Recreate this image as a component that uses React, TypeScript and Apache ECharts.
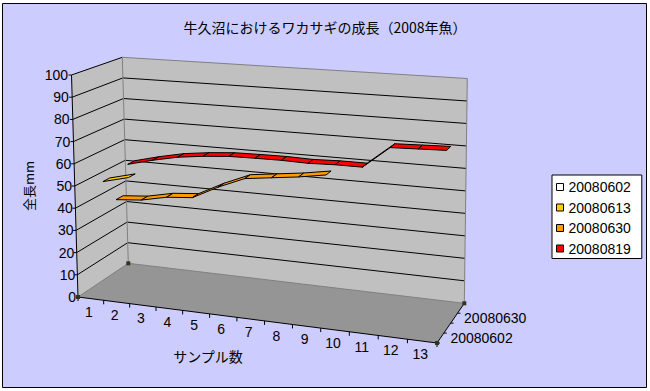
import React, { useEffect, useRef } from 'react';
import * as echarts from 'echarts';

// ---------- data ----------
const chartTitle = '牛久沼におけるワカサギの成長（2008年魚）';
const categories = ['1', '2', '3', '4', '5', '6', '7', '8', '9', '10', '11', '12', '13'];
const seriesNames = ['20080602', '20080613', '20080630', '20080819'];
const seriesColors = ['#FFFFFF', '#FFCC00', '#FF9900', '#FF0000'];
const s20080602: number[] = [];
const s20080613 = [49, 52];
const s20080630 = [37.5, 38.5, 41, 42, 48, 53, 54.5, 56, 58];
const s20080819 = [51, 54, 56.5, 58, 59, 59.2, 59.3, 59, 59.4, 59.4, 69.2, 69.6, 70];
const seriesValues = [s20080602, s20080613, s20080630, s20080819];
const yTicks = [0, 10, 20, 30, 40, 50, 60, 70, 80, 90, 100];
const depthLabelIdx = [0, 2];
const yTitle = '全長mm';
const xTitle = 'サンプル数';

// ---------- 3D box projection (layout constants) ----------
type Pt = [number, number];
const FL0: Pt = [78, 297];
const FL1: Pt = [71.5, 75];
const BL0: Pt = [128.3, 263.3];
const BL1: Pt = [122.3, 57.3];
const FR0: Pt = [437, 343];
const FR1: Pt = [439.5, 102.5];
const BR0: Pt = [464.3, 303.3];
const BR1: Pt = [467.3, 78.5];
const WARP = 0.076;
const RIBBON = 0.14;
const DIGIT_FONT = '"Liberation Sans", Arial, sans-serif';
const JP_FONT = '"Noto Sans CJK JP", sans-serif';

const lerp = (a: Pt, b: Pt, s: number): Pt => [a[0] + (b[0] - a[0]) * s, a[1] + (b[1] - a[1]) * s];
function proj(f: number, d: number, t: number): Pt {
  const g = f - WARP * f * (1 - f);
  const b0 = lerp(lerp(FL0, FR0, g), lerp(BL0, BR0, g), d);
  const b1 = lerp(lerp(FL1, FR1, g), lerp(BL1, BR1, g), d);
  return lerp(b0, b1, t);
}

function frameRender(params: any, api: any) {
  const cs = params.coordSys;
  const tOf = (v: number) => (cs.y + cs.height - api.coord([0, v])[1]) / cs.height;
  const fOf = (x: number) => (x - cs.x) / cs.width;
  const ch: any[] = [];
  const line = (a: Pt, b: Pt, stroke: string) =>
    ch.push({ type: 'line', shape: { x1: a[0], y1: a[1], x2: b[0], y2: b[1] }, style: { stroke, lineWidth: 1 } });
  // walls & floor
  ch.push({ type: 'polygon', shape: { points: [proj(0, 0, 0), proj(0, 1, 0), proj(0, 1, 1), proj(0, 0, 1)] }, style: { fill: '#C0C0C0' } });
  ch.push({ type: 'polygon', shape: { points: [proj(0, 1, 0), proj(1, 1, 0), proj(1, 1, 1), proj(0, 1, 1)] }, style: { fill: '#C0C0C0' } });
  ch.push({ type: 'polygon', shape: { points: [proj(0, 0, 0), proj(1, 0, 0), proj(1, 1, 0), proj(0, 1, 0)] }, style: { fill: '#959595' } });
  // gridlines
  yTicks.forEach((v) => {
    if (v === 0) return;
    const t = tOf(v);
    line(proj(0, 0, t), proj(0, 1, t), '#000');
    line(proj(0, 1, t), proj(1, 1, t), v === 100 ? '#808080' : '#000');
    const p = proj(0, 0, t);
    line([p[0] - 3, p[1]], p, '#000');
  });
  // edges
  line(proj(0, 1, 0), proj(0, 1, 1), '#808080');
  line(proj(1, 1, 0), proj(1, 1, 1), '#808080');
  line(proj(0, 1, 0), proj(1, 1, 0), '#808080');
  line(proj(0, 0, 0), proj(0, 1, 0), '#808080');
  line(proj(0, 0, 0), proj(0, 0, 1), '#000');
  line(proj(0, 0, 0), proj(1, 0, 0), '#000');
  line(proj(1, 0, 0), proj(1, 1, 0), '#000');
  // category ticks and labels
  const bw = api.size([1, 0])[0];
  categories.forEach((c, k) => {
    const cx = api.coord([k, 0])[0];
    const pb = proj(fOf(cx - bw / 2), 0, 0);
    line(pb, [pb[0], pb[1] + 4], '#000');
    const pc = proj(fOf(cx), 0, 0);
    ch.push({ type: 'text', style: { text: c, x: pc[0] - 2, y: pc[1] + 13, fill: '#000', fontSize: 14, fontFamily: DIGIT_FONT, align: 'center', verticalAlign: 'middle' } });
  });
  const pe = proj(1, 0, 0);
  line(pe, [pe[0], pe[1] + 4], '#000');
  // depth ticks and labels
  seriesNames.forEach((_, i) => {
    const p = proj(1, i / 4, 0);
    line(p, [p[0] + 3, p[1]], '#000');
  });
  depthLabelIdx.forEach((i) => {
    const p = proj(1, (i + 0.5) / 4, 0);
    ch.push({ type: 'text', style: { text: seriesNames[i], x: p[0] + 10, y: p[1], fill: '#000', fontSize: 14, fontFamily: DIGIT_FONT, align: 'left', verticalAlign: 'middle' } });
  });
  // corner handles
  [proj(0, 0, 0), proj(0, 1, 0), proj(1, 1, 0), proj(1, 0, 0)].forEach((p) => {
    ch.push({ type: 'rect', shape: { x: p[0] - 2, y: p[1] - 2, width: 4, height: 4 }, style: { fill: '#333320' } });
  });
  return { type: 'group', children: ch };
}

function ribbonRender(i: number) {
  return (params: any, api: any) => {
    const cs = params.coordSys;
    const k = api.value(0);
    const p1 = api.coord([k, api.value(1)]);
    const p2 = api.coord([k + 1, api.value(2)]);
    const f1 = (p1[0] - cs.x) / cs.width;
    const f2 = (p2[0] - cs.x) / cs.width;
    const t1 = (cs.y + cs.height - p1[1]) / cs.height;
    const t2 = (cs.y + cs.height - p2[1]) / cs.height;
    const dc = (i + 0.5) / 4;
    const d0 = dc - RIBBON / 2;
    const d1 = dc + RIBBON / 2;
    return {
      type: 'polygon',
      shape: { points: [proj(f1, d0, t1), proj(f2, d0, t2), proj(f2, d1, t2), proj(f1, d1, t1)] },
      style: { fill: seriesColors[i], stroke: '#000', lineWidth: 1, lineJoin: 'round' },
    };
  };
}

const segs = (vals: number[]) => {
  const out: number[][] = [];
  for (let k = 0; k < vals.length - 1; k++) out.push([k, vals[k], vals[k + 1]]);
  return out;
};

export default function App() {
  const ref = useRef<HTMLDivElement>(null);
  useEffect(() => {
    if (!ref.current) return;
    const chart = echarts.init(ref.current, undefined, { renderer: 'svg' });
    const rich: any = {};
    yTicks.forEach((v) => {
      rich['v' + v] = { padding: [0, (8 * v) / 100, 0, 0], fontSize: 14, fontFamily: DIGIT_FONT, color: '#000' };
    });
    const ribbons = seriesNames.map((name, i) => ({
      type: 'custom',
      name,
      coordinateSystem: 'cartesian2d',
      clip: false,
      z: 6 - i,
      silent: true,
      itemStyle: { color: seriesColors[i], borderColor: '#000', borderWidth: 1 },
      encode: { x: 0, y: 1 },
      renderItem: ribbonRender(i),
      data: segs(seriesValues[i]),
    }));
    chart.setOption({
      animation: false,
      backgroundColor: '#ffffff',
      title: {
        text: chartTitle,
        left: 'center',
        top: 15,
        textStyle: { fontSize: 14, fontWeight: 'normal', fontFamily: JP_FONT, color: '#000' },
      },
      legend: {
        data: seriesNames,
        orient: 'vertical',
        left: 552,
        top: 175,
        icon: 'rect',
        itemWidth: 7,
        itemHeight: 7,
        itemGap: 6.5,
        padding: [5, 11, 3, 4],
        backgroundColor: '#ffffff',
        borderColor: '#000',
        borderWidth: 1,
        selectedMode: false,
        itemStyle: { borderColor: '#000', borderWidth: 1 },
        textStyle: { fontSize: 14, fontFamily: DIGIT_FONT, color: '#000', lineHeight: 13 },
      },
      grid: { left: 79, top: 75, width: 258, height: 222 },
      xAxis: {
        type: 'category',
        data: categories,
        z: 3,
        axisLine: { show: false },
        axisTick: { show: false },
        axisLabel: { show: false },
        splitLine: { show: false },
        name: xTitle,
        nameLocation: 'middle',
        nameGap: 52,
        nameTextStyle: { fontSize: 14, fontFamily: JP_FONT, color: '#000' },
      },
      yAxis: {
        type: 'value',
        min: 0,
        max: 100,
        interval: 10,
        z: 3,
        axisLine: { show: false },
        axisTick: { show: false },
        splitLine: { show: false },
        axisLabel: {
          margin: 3,
          formatter: (v: number) => `{v${v}|${v}}`,
          rich,
        },
        name: yTitle,
        nameLocation: 'middle',
        nameGap: 44,
        nameRotate: 90,
        nameTextStyle: { fontSize: 13, fontFamily: JP_FONT, color: '#000' },
      },
      graphic: [
        {
          type: 'rect',
          z: -10,
          silent: true,
          shape: { x: 2.5, y: 3.5, width: 644, height: 384 },
          style: { fill: '#CCCCFF', stroke: '#000', lineWidth: 1 },
        },
      ],
      series: [
        {
          type: 'custom',
          name: '__frame',
          coordinateSystem: 'cartesian2d',
          clip: false,
          z: 1,
          silent: true,
          renderItem: frameRender,
          data: [[0, 0]],
        },
        ...ribbons,
      ],
    });
    return () => chart.dispose();
  }, []);
  return <div ref={ref} style={{ position: 'fixed', left: 0, top: 0, width: 650, height: 391 }} />;
}
